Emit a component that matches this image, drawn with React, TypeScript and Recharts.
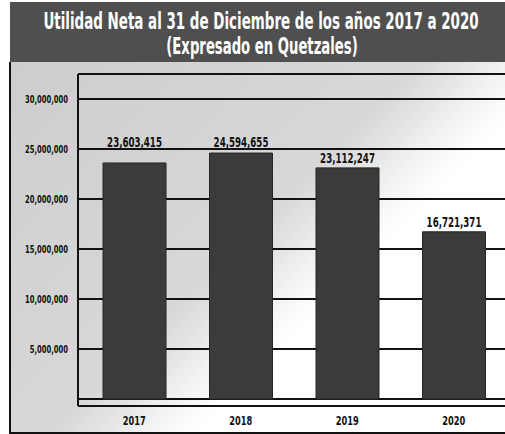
import { BarChart, Bar, XAxis, YAxis, CartesianGrid, LabelList } from "recharts"

const years = ["2017", "2018", "2019", "2020"]
const utilidad = [23603415, 24594655, 23112247, 16721371]
const yTicks = [0, 5000000, 10000000, 15000000, 20000000, 25000000, 30000000]
const titleLines = ["Utilidad Neta al 31 de Diciembre de los años 2017 a 2020", "(Expresado en Quetzales)"]

const data = years.map((year, i) => ({ year, value: utilidad[i] }))

const FONT = "'DejaVu Sans', sans-serif"
const STEP = 5000000

const fmt = (v: number) => v.toLocaleString("en-US")

// the original uses a very condensed face, so squeeze the glyphs horizontally
function YTick({ x, y, payload }: any) {
  if (payload.value === 0) return null
  return (
    <text
      transform={`translate(${x},${y}) scale(0.62,1)`}
      textAnchor="end"
      dy="0.36em"
      fill="#111"
      fontSize={11}
      fontWeight={700}
      fontFamily={FONT}
    >
      {fmt(payload.value)}
    </text>
  )
}

function XTick({ x, y, payload }: any) {
  return (
    <text
      transform={`translate(${x},${y}) scale(0.69,1)`}
      textAnchor="middle"
      dy="0.72em"
      fill="#111"
      fontSize={12}
      fontWeight={700}
      fontFamily={FONT}
    >
      {payload.value}
    </text>
  )
}

// labels sit on top of the bar, unless a grid line is just above it:
// then the label goes above that line (as in the original)
function ValueLabel({ x, y, width, height, value }: any) {
  const v = Number(value)
  const nextTick = Math.ceil(v / STEP) * STEP
  const lineY = y - ((nextTick - v) * height) / v
  const baseY = y - lineY < 16 ? lineY - 2 : y - 5
  return (
    <text
      transform={`translate(${x + width / 2},${baseY}) scale(0.62,1)`}
      textAnchor="middle"
      fill="#111"
      fontSize={14}
      fontWeight={700}
      fontFamily={FONT}
    >
      {fmt(v)}
    </text>
  )
}

export default function App() {
  return (
    <div
      style={{
        position: "fixed",
        left: 0,
        top: 0,
        width: 505,
        height: 434,
        overflow: "hidden",
        background: "#fff",
      }}
    >
      {/* title band */}
      <svg
        width={495}
        height={60}
        style={{ position: "absolute", left: 10, top: 2, display: "block" }}
      >
        <rect x={0} y={0} width={495} height={60} fill="#4f4f4f" />
        <text
          transform="translate(251,27) scale(0.585,1)"
          textAnchor="middle"
          fill="#fff"
          fontSize={23}
          fontWeight={700}
          fontFamily={FONT}
        >
          {titleLines[0]}
        </text>
        <text
          transform="translate(252,52) scale(0.575,1)"
          textAnchor="middle"
          fill="#fff"
          fontSize={23}
          fontWeight={700}
          fontFamily={FONT}
        >
          {titleLines[1]}
        </text>
      </svg>

      {/* shaded background of the plot */}
      <div
        style={{
          position: "absolute",
          left: 9,
          top: 62,
          width: 496,
          height: 372,
          background: "linear-gradient(135deg, #cdcdcd 0%, #d8d8d8 48%, #f2f2f2 58%, #ffffff 64%)",
          borderLeft: "2px solid #111",
          borderBottom: "2px solid #111",
          boxSizing: "border-box",
        }}
      />

      <div style={{ position: "absolute", left: 0, top: 62 }}>
        <BarChart
          width={507}
          height={372}
          data={data}
          margin={{ top: 12, right: 0, bottom: 0, left: 0 }}
        >
          <CartesianGrid
            horizontal
            vertical={false}
            stroke="#111"
            strokeWidth={2}
            strokeOpacity={1}
          />
          <XAxis
            dataKey="year"
            height={28}
            padding={{ left: 3, right: 0 }}
            axisLine={{ stroke: "#111", strokeWidth: 2 }}
            tickLine={false}
            tickSize={0}
            tickMargin={10}
            tick={<XTick />}
          />
          <YAxis
            width={78}
            domain={[-700000, 32500000]}
            ticks={yTicks}
            interval={0}
            allowDataOverflow
            axisLine={{ stroke: "#111", strokeWidth: 2 }}
            tickLine={false}
            tickSize={0}
            tickMargin={10}
            tick={<YTick />}
          />
          <Bar dataKey="value" fill="#3b3b3b" stroke="#262626" barSize={63} isAnimationActive={false}>
            <LabelList dataKey="value" content={<ValueLabel />} />
          </Bar>
        </BarChart>
      </div>
    </div>
  )
}
